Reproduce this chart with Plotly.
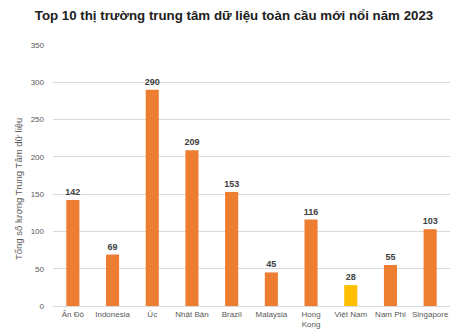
import plotly.graph_objects as go

categories = ["Ấn Độ", "Indonesia", "Úc", "Nhật Bản", "Brazil", "Malaysia", "Hong<br>Kong", "Việt Nam", "Nam Phi", "Singapore"]
values = [142, 69, 290, 209, 153, 45, 116, 28, 55, 103]
highlight = "Việt Nam"
y_title = "Tổng số lượng Trung Tâm dữ liệu"

colors = ["#FFC000" if c == highlight else "#ED7D31" for c in categories]

fig = go.Figure(go.Bar(
    x=categories, y=values,
    marker=dict(color=colors, line=dict(width=0)),
    text=[str(v) for v in values], textposition="outside",
    constraintext="none",
    textfont=dict(family="Liberation Sans, Arial", size=9, color="#404040"),
    texttemplate="<b>%{text}</b>", cliponaxis=False,
))

fig.update_layout(
    width=468, height=332,
    margin=dict(l=53, r=18, t=45, b=26),
    paper_bgcolor="white", plot_bgcolor="white",
    bargap=0.67,
    showlegend=False,
    title=dict(text="<b>Top 10 thị trường trung tâm dữ liệu toàn cầu mới nổi năm 2023</b>",
               x=0.5, xanchor="center", y=0.955, yanchor="middle",
               font=dict(family="Liberation Sans, Arial", size=13.3, color="#202020")),
    font=dict(family="Liberation Sans, Arial", size=8, color="#595959"),
    annotations=[dict(text=y_title, xref="paper", yref="paper", x=-0.087, y=0.45,
                      xanchor="center", yanchor="middle", textangle=-90, showarrow=False,
                      font=dict(size=9.5, color="#595959"))],
)
fig.update_yaxes(range=[0, 350], dtick=50, showgrid=True, gridcolor="#D9D9D9", gridwidth=1,
                 zeroline=False, showline=False, ticks="", ticklabelstandoff=8,
                 tickfont=dict(size=8, color="#595959"), automargin=False)
fig.update_xaxes(showline=True, linecolor="#D9D9D9", ticks="", tickfont=dict(size=8, color="#595959"),
                 automargin=False, tickangle=0)

fig.write_html("out.html")
